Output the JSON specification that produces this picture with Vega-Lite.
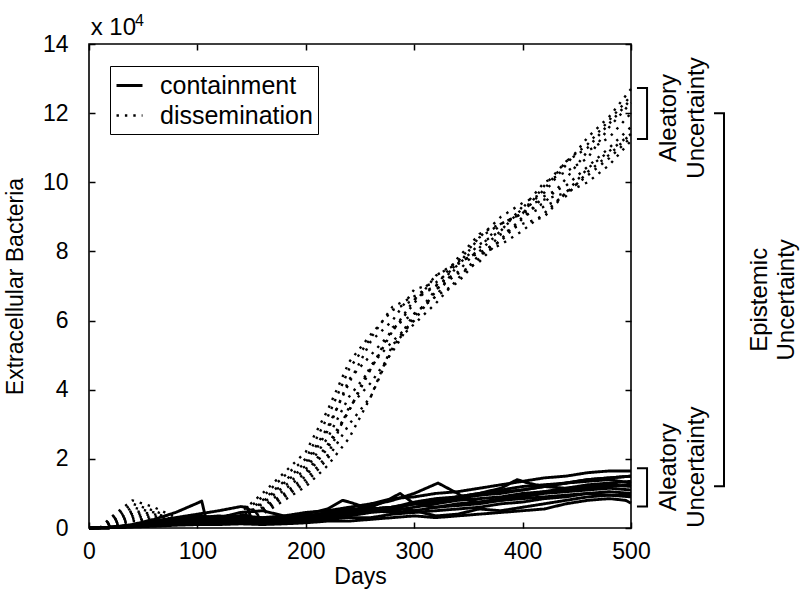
{
  "$schema": "https://vega.github.io/schema/vega-lite/v6.json",
  "width": 542,
  "height": 484,
  "autosize": {"type": "none"},
  "padding": {"left": 89, "top": 44, "right": 169, "bottom": 64},
  "background": "white",
  "config": {
    "font": "Liberation Sans",
    "view": {"stroke": "black", "strokeWidth": 1.6},
    "axis": {"grid": false, "domain": false, "tickColor": "black", "tickWidth": 1.5, "tickSize": -6, "labelColor": "black", "labelFontSize": 23, "titleFontSize": 23, "titleFontWeight": "normal", "titleColor": "black", "labelFont": "Liberation Sans", "titleFont": "Liberation Sans", "labelFlush": false, "labelOverlap": false},
    "legend": {"orient": "none", "legendX": 21, "legendY": 22, "symbolType": "stroke", "symbolSize": 676, "symbolStrokeWidth": 2.4, "symbolStrokeColor": "black", "labelFontSize": 25, "labelFont": "Liberation Sans", "labelColor": "black", "labelOffset": 16, "strokeColor": "black", "fillColor": "white", "padding": 5, "rowPadding": 2}
  },
  "datasets": {
    "runs": [
      {"t":"dissemination","r":"d1","d":10,"v":0},{"t":"dissemination","r":"d1","d":20,"v":0.3},{"t":"dissemination","r":"d1","d":40,"v":0.8},{"t":"dissemination","r":"d1","d":60,"v":0.6},{"t":"dissemination","r":"d1","d":80,"v":0.3},{"t":"dissemination","r":"d1","d":100,"v":0.25},{"t":"dissemination","r":"d1","d":120,"v":0.3},{"t":"dissemination","r":"d1","d":140,"v":0.45},{"t":"dissemination","r":"d1","d":160,"v":1.0},{"t":"dissemination","r":"d1","d":180,"v":1.6},{"t":"dissemination","r":"d1","d":200,"v":2.2},{"t":"dissemination","r":"d1","d":220,"v":3.4},{"t":"dissemination","r":"d1","d":240,"v":4.8},{"t":"dissemination","r":"d1","d":260,"v":5.6},{"t":"dissemination","r":"d1","d":280,"v":6.3},{"t":"dissemination","r":"d1","d":300,"v":6.6},{"t":"dissemination","r":"d1","d":320,"v":7.3},{"t":"dissemination","r":"d1","d":340,"v":7.7},{"t":"dissemination","r":"d1","d":360,"v":8.4},{"t":"dissemination","r":"d1","d":380,"v":9.0},{"t":"dissemination","r":"d1","d":400,"v":9.4},{"t":"dissemination","r":"d1","d":420,"v":9.7},{"t":"dissemination","r":"d1","d":440,"v":10.5},{"t":"dissemination","r":"d1","d":460,"v":11.3},{"t":"dissemination","r":"d1","d":480,"v":11.9},{"t":"dissemination","r":"d1","d":500,"v":12.7},
      {"t":"dissemination","r":"d2","d":10,"v":0},{"t":"dissemination","r":"d2","d":20,"v":0.25},{"t":"dissemination","r":"d2","d":40,"v":0.7},{"t":"dissemination","r":"d2","d":60,"v":0.5},{"t":"dissemination","r":"d2","d":80,"v":0.25},{"t":"dissemination","r":"d2","d":100,"v":0.2},{"t":"dissemination","r":"d2","d":120,"v":0.25},{"t":"dissemination","r":"d2","d":140,"v":0.4},{"t":"dissemination","r":"d2","d":160,"v":0.9},{"t":"dissemination","r":"d2","d":180,"v":1.5},{"t":"dissemination","r":"d2","d":200,"v":2.0},{"t":"dissemination","r":"d2","d":220,"v":3.2},{"t":"dissemination","r":"d2","d":240,"v":4.6},{"t":"dissemination","r":"d2","d":260,"v":5.5},{"t":"dissemination","r":"d2","d":280,"v":6.4},{"t":"dissemination","r":"d2","d":300,"v":6.7},{"t":"dissemination","r":"d2","d":320,"v":7.0},{"t":"dissemination","r":"d2","d":340,"v":7.8},{"t":"dissemination","r":"d2","d":360,"v":8.5},{"t":"dissemination","r":"d2","d":380,"v":8.8},{"t":"dissemination","r":"d2","d":400,"v":9.1},{"t":"dissemination","r":"d2","d":420,"v":9.8},{"t":"dissemination","r":"d2","d":440,"v":10.6},{"t":"dissemination","r":"d2","d":460,"v":11.1},{"t":"dissemination","r":"d2","d":480,"v":11.8},{"t":"dissemination","r":"d2","d":500,"v":12.5},
      {"t":"dissemination","r":"d3","d":10,"v":0},{"t":"dissemination","r":"d3","d":20,"v":0.2},{"t":"dissemination","r":"d3","d":40,"v":0.6},{"t":"dissemination","r":"d3","d":60,"v":0.45},{"t":"dissemination","r":"d3","d":80,"v":0.2},{"t":"dissemination","r":"d3","d":100,"v":0.2},{"t":"dissemination","r":"d3","d":120,"v":0.2},{"t":"dissemination","r":"d3","d":140,"v":0.35},{"t":"dissemination","r":"d3","d":160,"v":0.8},{"t":"dissemination","r":"d3","d":180,"v":1.35},{"t":"dissemination","r":"d3","d":200,"v":1.9},{"t":"dissemination","r":"d3","d":220,"v":2.9},{"t":"dissemination","r":"d3","d":240,"v":4.2},{"t":"dissemination","r":"d3","d":260,"v":5.4},{"t":"dissemination","r":"d3","d":280,"v":6.0},{"t":"dissemination","r":"d3","d":300,"v":6.9},{"t":"dissemination","r":"d3","d":320,"v":7.1},{"t":"dissemination","r":"d3","d":340,"v":7.6},{"t":"dissemination","r":"d3","d":360,"v":8.2},{"t":"dissemination","r":"d3","d":380,"v":8.6},{"t":"dissemination","r":"d3","d":400,"v":9.25},{"t":"dissemination","r":"d3","d":420,"v":10.0},{"t":"dissemination","r":"d3","d":440,"v":10.3},{"t":"dissemination","r":"d3","d":460,"v":10.7},{"t":"dissemination","r":"d3","d":480,"v":11.6},{"t":"dissemination","r":"d3","d":500,"v":12.3},
      {"t":"dissemination","r":"d4","d":10,"v":0},{"t":"dissemination","r":"d4","d":20,"v":0.15},{"t":"dissemination","r":"d4","d":40,"v":0.5},{"t":"dissemination","r":"d4","d":60,"v":0.4},{"t":"dissemination","r":"d4","d":80,"v":0.2},{"t":"dissemination","r":"d4","d":100,"v":0.15},{"t":"dissemination","r":"d4","d":120,"v":0.2},{"t":"dissemination","r":"d4","d":140,"v":0.3},{"t":"dissemination","r":"d4","d":160,"v":0.75},{"t":"dissemination","r":"d4","d":180,"v":1.3},{"t":"dissemination","r":"d4","d":200,"v":1.8},{"t":"dissemination","r":"d4","d":220,"v":2.8},{"t":"dissemination","r":"d4","d":240,"v":4.3},{"t":"dissemination","r":"d4","d":260,"v":5.0},{"t":"dissemination","r":"d4","d":280,"v":5.7},{"t":"dissemination","r":"d4","d":300,"v":6.5},{"t":"dissemination","r":"d4","d":320,"v":7.3},{"t":"dissemination","r":"d4","d":340,"v":7.65},{"t":"dissemination","r":"d4","d":360,"v":8.0},{"t":"dissemination","r":"d4","d":380,"v":8.6},{"t":"dissemination","r":"d4","d":400,"v":9.3},{"t":"dissemination","r":"d4","d":420,"v":9.5},{"t":"dissemination","r":"d4","d":440,"v":9.7},{"t":"dissemination","r":"d4","d":460,"v":10.4},{"t":"dissemination","r":"d4","d":480,"v":10.9},{"t":"dissemination","r":"d4","d":500,"v":11.4},
      {"t":"dissemination","r":"d5","d":10,"v":0},{"t":"dissemination","r":"d5","d":20,"v":0.2},{"t":"dissemination","r":"d5","d":40,"v":0.45},{"t":"dissemination","r":"d5","d":60,"v":0.35},{"t":"dissemination","r":"d5","d":80,"v":0.2},{"t":"dissemination","r":"d5","d":100,"v":0.2},{"t":"dissemination","r":"d5","d":120,"v":0.2},{"t":"dissemination","r":"d5","d":140,"v":0.3},{"t":"dissemination","r":"d5","d":160,"v":0.7},{"t":"dissemination","r":"d5","d":180,"v":1.2},{"t":"dissemination","r":"d5","d":200,"v":1.7},{"t":"dissemination","r":"d5","d":220,"v":2.6},{"t":"dissemination","r":"d5","d":240,"v":3.8},{"t":"dissemination","r":"d5","d":260,"v":4.6},{"t":"dissemination","r":"d5","d":280,"v":5.7},{"t":"dissemination","r":"d5","d":300,"v":6.6},{"t":"dissemination","r":"d5","d":320,"v":7.0},{"t":"dissemination","r":"d5","d":340,"v":7.4},{"t":"dissemination","r":"d5","d":360,"v":8.1},{"t":"dissemination","r":"d5","d":380,"v":8.8},{"t":"dissemination","r":"d5","d":400,"v":9.1},{"t":"dissemination","r":"d5","d":420,"v":9.4},{"t":"dissemination","r":"d5","d":440,"v":10.1},{"t":"dissemination","r":"d5","d":460,"v":10.9},{"t":"dissemination","r":"d5","d":480,"v":11.3},{"t":"dissemination","r":"d5","d":500,"v":12.0},
      {"t":"dissemination","r":"d6","d":10,"v":0},{"t":"dissemination","r":"d6","d":20,"v":0.1},{"t":"dissemination","r":"d6","d":40,"v":0.4},{"t":"dissemination","r":"d6","d":60,"v":0.3},{"t":"dissemination","r":"d6","d":80,"v":0.15},{"t":"dissemination","r":"d6","d":100,"v":0.2},{"t":"dissemination","r":"d6","d":120,"v":0.15},{"t":"dissemination","r":"d6","d":140,"v":0.25},{"t":"dissemination","r":"d6","d":160,"v":0.6},{"t":"dissemination","r":"d6","d":180,"v":1.1},{"t":"dissemination","r":"d6","d":200,"v":1.6},{"t":"dissemination","r":"d6","d":220,"v":2.4},{"t":"dissemination","r":"d6","d":240,"v":3.4},{"t":"dissemination","r":"d6","d":260,"v":4.6},{"t":"dissemination","r":"d6","d":280,"v":5.8},{"t":"dissemination","r":"d6","d":300,"v":6.2},{"t":"dissemination","r":"d6","d":320,"v":6.7},{"t":"dissemination","r":"d6","d":340,"v":7.6},{"t":"dissemination","r":"d6","d":360,"v":8.4},{"t":"dissemination","r":"d6","d":380,"v":8.8},{"t":"dissemination","r":"d6","d":400,"v":9.1},{"t":"dissemination","r":"d6","d":420,"v":9.9},{"t":"dissemination","r":"d6","d":440,"v":10.6},{"t":"dissemination","r":"d6","d":460,"v":11.0},{"t":"dissemination","r":"d6","d":480,"v":11.7},{"t":"dissemination","r":"d6","d":500,"v":12.4},
      {"t":"dissemination","r":"d7","d":10,"v":0},{"t":"dissemination","r":"d7","d":20,"v":0.1},{"t":"dissemination","r":"d7","d":40,"v":0.35},{"t":"dissemination","r":"d7","d":60,"v":0.25},{"t":"dissemination","r":"d7","d":80,"v":0.15},{"t":"dissemination","r":"d7","d":100,"v":0.15},{"t":"dissemination","r":"d7","d":120,"v":0.15},{"t":"dissemination","r":"d7","d":140,"v":0.25},{"t":"dissemination","r":"d7","d":160,"v":0.55},{"t":"dissemination","r":"d7","d":180,"v":1.0},{"t":"dissemination","r":"d7","d":200,"v":1.5},{"t":"dissemination","r":"d7","d":220,"v":2.3},{"t":"dissemination","r":"d7","d":240,"v":3.4},{"t":"dissemination","r":"d7","d":260,"v":4.7},{"t":"dissemination","r":"d7","d":280,"v":5.4},{"t":"dissemination","r":"d7","d":300,"v":6.0},{"t":"dissemination","r":"d7","d":320,"v":6.85},{"t":"dissemination","r":"d7","d":340,"v":7.7},{"t":"dissemination","r":"d7","d":360,"v":7.95},{"t":"dissemination","r":"d7","d":380,"v":8.3},{"t":"dissemination","r":"d7","d":400,"v":8.95},{"t":"dissemination","r":"d7","d":420,"v":9.6},{"t":"dissemination","r":"d7","d":440,"v":9.9},{"t":"dissemination","r":"d7","d":460,"v":10.45},{"t":"dissemination","r":"d7","d":480,"v":11.0},{"t":"dissemination","r":"d7","d":500,"v":11.6},
      {"t":"dissemination","r":"d8","d":10,"v":0},{"t":"dissemination","r":"d8","d":20,"v":0.1},{"t":"dissemination","r":"d8","d":40,"v":0.3},{"t":"dissemination","r":"d8","d":60,"v":0.2},{"t":"dissemination","r":"d8","d":80,"v":0.1},{"t":"dissemination","r":"d8","d":100,"v":0.15},{"t":"dissemination","r":"d8","d":120,"v":0.15},{"t":"dissemination","r":"d8","d":140,"v":0.2},{"t":"dissemination","r":"d8","d":160,"v":0.5},{"t":"dissemination","r":"d8","d":180,"v":0.95},{"t":"dissemination","r":"d8","d":200,"v":1.4},{"t":"dissemination","r":"d8","d":220,"v":2.1},{"t":"dissemination","r":"d8","d":240,"v":3.5},{"t":"dissemination","r":"d8","d":260,"v":4.2},{"t":"dissemination","r":"d8","d":280,"v":5.1},{"t":"dissemination","r":"d8","d":300,"v":6.1},{"t":"dissemination","r":"d8","d":320,"v":6.9},{"t":"dissemination","r":"d8","d":340,"v":7.35},{"t":"dissemination","r":"d8","d":360,"v":7.7},{"t":"dissemination","r":"d8","d":380,"v":8.35},{"t":"dissemination","r":"d8","d":400,"v":9.0},{"t":"dissemination","r":"d8","d":420,"v":9.3},{"t":"dissemination","r":"d8","d":440,"v":9.6},{"t":"dissemination","r":"d8","d":460,"v":10.3},{"t":"dissemination","r":"d8","d":480,"v":10.8},{"t":"dissemination","r":"d8","d":500,"v":11.4},
      {"t":"dissemination","r":"d9","d":10,"v":0},{"t":"dissemination","r":"d9","d":20,"v":0.05},{"t":"dissemination","r":"d9","d":40,"v":0.25},{"t":"dissemination","r":"d9","d":60,"v":0.2},{"t":"dissemination","r":"d9","d":80,"v":0.1},{"t":"dissemination","r":"d9","d":100,"v":0.1},{"t":"dissemination","r":"d9","d":120,"v":0.1},{"t":"dissemination","r":"d9","d":140,"v":0.2},{"t":"dissemination","r":"d9","d":160,"v":0.45},{"t":"dissemination","r":"d9","d":180,"v":0.9},{"t":"dissemination","r":"d9","d":200,"v":1.3},{"t":"dissemination","r":"d9","d":220,"v":2.0},{"t":"dissemination","r":"d9","d":240,"v":3.0},{"t":"dissemination","r":"d9","d":260,"v":3.8},{"t":"dissemination","r":"d9","d":280,"v":5.2},{"t":"dissemination","r":"d9","d":300,"v":6.2},{"t":"dissemination","r":"d9","d":320,"v":6.7},{"t":"dissemination","r":"d9","d":340,"v":7.1},{"t":"dissemination","r":"d9","d":360,"v":7.8},{"t":"dissemination","r":"d9","d":380,"v":8.5},{"t":"dissemination","r":"d9","d":400,"v":8.8},{"t":"dissemination","r":"d9","d":420,"v":9.0},{"t":"dissemination","r":"d9","d":440,"v":9.7},{"t":"dissemination","r":"d9","d":460,"v":10.2},{"t":"dissemination","r":"d9","d":480,"v":10.7},{"t":"dissemination","r":"d9","d":500,"v":11.3},
      {"t":"dissemination","r":"d10","d":10,"v":0},{"t":"dissemination","r":"d10","d":20,"v":0.05},{"t":"dissemination","r":"d10","d":40,"v":0.2},{"t":"dissemination","r":"d10","d":60,"v":0.15},{"t":"dissemination","r":"d10","d":80,"v":0.1},{"t":"dissemination","r":"d10","d":100,"v":0.1},{"t":"dissemination","r":"d10","d":120,"v":0.1},{"t":"dissemination","r":"d10","d":140,"v":0.15},{"t":"dissemination","r":"d10","d":160,"v":0.4},{"t":"dissemination","r":"d10","d":180,"v":0.8},{"t":"dissemination","r":"d10","d":200,"v":1.2},{"t":"dissemination","r":"d10","d":220,"v":1.8},{"t":"dissemination","r":"d10","d":240,"v":2.6},{"t":"dissemination","r":"d10","d":260,"v":3.8},{"t":"dissemination","r":"d10","d":280,"v":5.3},{"t":"dissemination","r":"d10","d":300,"v":5.9},{"t":"dissemination","r":"d10","d":320,"v":6.5},{"t":"dissemination","r":"d10","d":340,"v":7.2},{"t":"dissemination","r":"d10","d":360,"v":7.9},{"t":"dissemination","r":"d10","d":380,"v":8.2},{"t":"dissemination","r":"d10","d":400,"v":8.6},{"t":"dissemination","r":"d10","d":420,"v":9.1},{"t":"dissemination","r":"d10","d":440,"v":9.7},{"t":"dissemination","r":"d10","d":460,"v":10.0},{"t":"dissemination","r":"d10","d":480,"v":10.5},{"t":"dissemination","r":"d10","d":500,"v":11.2},
      {"t":"containment","r":"c1","d":0,"v":0},{"t":"containment","r":"c1","d":20,"v":0.02},{"t":"containment","r":"c1","d":40,"v":0.1},{"t":"containment","r":"c1","d":60,"v":0.25},{"t":"containment","r":"c1","d":80,"v":0.45},{"t":"containment","r":"c1","d":100,"v":0.72},{"t":"containment","r":"c1","d":104,"v":0.78},{"t":"containment","r":"c1","d":108,"v":0.25},{"t":"containment","r":"c1","d":120,"v":0.3},{"t":"containment","r":"c1","d":140,"v":0.35},{"t":"containment","r":"c1","d":160,"v":0.3},{"t":"containment","r":"c1","d":180,"v":0.35},{"t":"containment","r":"c1","d":200,"v":0.45},{"t":"containment","r":"c1","d":220,"v":0.5},{"t":"containment","r":"c1","d":240,"v":0.6},{"t":"containment","r":"c1","d":260,"v":0.7},{"t":"containment","r":"c1","d":280,"v":0.85},{"t":"containment","r":"c1","d":300,"v":0.9},{"t":"containment","r":"c1","d":320,"v":1.0},{"t":"containment","r":"c1","d":340,"v":1.05},{"t":"containment","r":"c1","d":360,"v":1.15},{"t":"containment","r":"c1","d":380,"v":1.25},{"t":"containment","r":"c1","d":400,"v":1.35},{"t":"containment","r":"c1","d":420,"v":1.45},{"t":"containment","r":"c1","d":440,"v":1.5},{"t":"containment","r":"c1","d":460,"v":1.6},{"t":"containment","r":"c1","d":480,"v":1.65},{"t":"containment","r":"c1","d":500,"v":1.65},
      {"t":"containment","r":"c2","d":0,"v":0},{"t":"containment","r":"c2","d":20,"v":0.01},{"t":"containment","r":"c2","d":40,"v":0.08},{"t":"containment","r":"c2","d":60,"v":0.2},{"t":"containment","r":"c2","d":80,"v":0.3},{"t":"containment","r":"c2","d":100,"v":0.4},{"t":"containment","r":"c2","d":120,"v":0.5},{"t":"containment","r":"c2","d":140,"v":0.62},{"t":"containment","r":"c2","d":146,"v":0.6},{"t":"containment","r":"c2","d":150,"v":0.25},{"t":"containment","r":"c2","d":160,"v":0.25},{"t":"containment","r":"c2","d":180,"v":0.2},{"t":"containment","r":"c2","d":200,"v":0.3},{"t":"containment","r":"c2","d":220,"v":0.35},{"t":"containment","r":"c2","d":240,"v":0.4},{"t":"containment","r":"c2","d":260,"v":0.5},{"t":"containment","r":"c2","d":280,"v":0.55},{"t":"containment","r":"c2","d":300,"v":0.7},{"t":"containment","r":"c2","d":320,"v":0.8},{"t":"containment","r":"c2","d":340,"v":0.9},{"t":"containment","r":"c2","d":360,"v":0.95},{"t":"containment","r":"c2","d":380,"v":1.0},{"t":"containment","r":"c2","d":400,"v":1.1},{"t":"containment","r":"c2","d":420,"v":1.2},{"t":"containment","r":"c2","d":440,"v":1.3},{"t":"containment","r":"c2","d":460,"v":1.35},{"t":"containment","r":"c2","d":480,"v":1.4},{"t":"containment","r":"c2","d":500,"v":1.3},
      {"t":"containment","r":"c3","d":0,"v":0},{"t":"containment","r":"c3","d":20,"v":0.02},{"t":"containment","r":"c3","d":40,"v":0.08},{"t":"containment","r":"c3","d":60,"v":0.15},{"t":"containment","r":"c3","d":80,"v":0.2},{"t":"containment","r":"c3","d":100,"v":0.25},{"t":"containment","r":"c3","d":120,"v":0.3},{"t":"containment","r":"c3","d":140,"v":0.3},{"t":"containment","r":"c3","d":160,"v":0.25},{"t":"containment","r":"c3","d":180,"v":0.3},{"t":"containment","r":"c3","d":200,"v":0.4},{"t":"containment","r":"c3","d":220,"v":0.55},{"t":"containment","r":"c3","d":234,"v":0.8},{"t":"containment","r":"c3","d":240,"v":0.75},{"t":"containment","r":"c3","d":260,"v":0.55},{"t":"containment","r":"c3","d":280,"v":0.6},{"t":"containment","r":"c3","d":300,"v":0.75},{"t":"containment","r":"c3","d":320,"v":0.85},{"t":"containment","r":"c3","d":340,"v":0.9},{"t":"containment","r":"c3","d":360,"v":1.0},{"t":"containment","r":"c3","d":380,"v":1.1},{"t":"containment","r":"c3","d":400,"v":1.2},{"t":"containment","r":"c3","d":420,"v":1.25},{"t":"containment","r":"c3","d":440,"v":1.3},{"t":"containment","r":"c3","d":460,"v":1.4},{"t":"containment","r":"c3","d":480,"v":1.45},{"t":"containment","r":"c3","d":500,"v":1.5},
      {"t":"containment","r":"c4","d":0,"v":0},{"t":"containment","r":"c4","d":20,"v":0.01},{"t":"containment","r":"c4","d":40,"v":0.05},{"t":"containment","r":"c4","d":60,"v":0.12},{"t":"containment","r":"c4","d":80,"v":0.2},{"t":"containment","r":"c4","d":100,"v":0.2},{"t":"containment","r":"c4","d":120,"v":0.25},{"t":"containment","r":"c4","d":140,"v":0.2},{"t":"containment","r":"c4","d":160,"v":0.2},{"t":"containment","r":"c4","d":180,"v":0.25},{"t":"containment","r":"c4","d":200,"v":0.3},{"t":"containment","r":"c4","d":220,"v":0.4},{"t":"containment","r":"c4","d":240,"v":0.5},{"t":"containment","r":"c4","d":260,"v":0.65},{"t":"containment","r":"c4","d":280,"v":0.8},{"t":"containment","r":"c4","d":300,"v":1.0},{"t":"containment","r":"c4","d":322,"v":1.3},{"t":"containment","r":"c4","d":340,"v":1.0},{"t":"containment","r":"c4","d":350,"v":0.8},{"t":"containment","r":"c4","d":360,"v":0.75},{"t":"containment","r":"c4","d":380,"v":0.85},{"t":"containment","r":"c4","d":400,"v":0.95},{"t":"containment","r":"c4","d":420,"v":1.05},{"t":"containment","r":"c4","d":440,"v":1.15},{"t":"containment","r":"c4","d":460,"v":1.25},{"t":"containment","r":"c4","d":480,"v":1.3},{"t":"containment","r":"c4","d":500,"v":1.35},
      {"t":"containment","r":"c5","d":0,"v":0},{"t":"containment","r":"c5","d":20,"v":0.01},{"t":"containment","r":"c5","d":40,"v":0.05},{"t":"containment","r":"c5","d":60,"v":0.1},{"t":"containment","r":"c5","d":80,"v":0.15},{"t":"containment","r":"c5","d":100,"v":0.2},{"t":"containment","r":"c5","d":120,"v":0.15},{"t":"containment","r":"c5","d":140,"v":0.2},{"t":"containment","r":"c5","d":160,"v":0.2},{"t":"containment","r":"c5","d":180,"v":0.25},{"t":"containment","r":"c5","d":200,"v":0.3},{"t":"containment","r":"c5","d":220,"v":0.35},{"t":"containment","r":"c5","d":240,"v":0.4},{"t":"containment","r":"c5","d":260,"v":0.5},{"t":"containment","r":"c5","d":280,"v":0.6},{"t":"containment","r":"c5","d":300,"v":0.7},{"t":"containment","r":"c5","d":320,"v":0.8},{"t":"containment","r":"c5","d":340,"v":0.9},{"t":"containment","r":"c5","d":360,"v":1.0},{"t":"containment","r":"c5","d":380,"v":1.15},{"t":"containment","r":"c5","d":395,"v":1.4},{"t":"containment","r":"c5","d":405,"v":1.3},{"t":"containment","r":"c5","d":420,"v":1.2},{"t":"containment","r":"c5","d":440,"v":1.15},{"t":"containment","r":"c5","d":460,"v":1.2},{"t":"containment","r":"c5","d":480,"v":1.25},{"t":"containment","r":"c5","d":500,"v":1.2},
      {"t":"containment","r":"c6","d":0,"v":0},{"t":"containment","r":"c6","d":20,"v":0.02},{"t":"containment","r":"c6","d":40,"v":0.06},{"t":"containment","r":"c6","d":60,"v":0.1},{"t":"containment","r":"c6","d":80,"v":0.12},{"t":"containment","r":"c6","d":100,"v":0.15},{"t":"containment","r":"c6","d":120,"v":0.2},{"t":"containment","r":"c6","d":140,"v":0.2},{"t":"containment","r":"c6","d":160,"v":0.18},{"t":"containment","r":"c6","d":180,"v":0.2},{"t":"containment","r":"c6","d":200,"v":0.25},{"t":"containment","r":"c6","d":220,"v":0.35},{"t":"containment","r":"c6","d":240,"v":0.45},{"t":"containment","r":"c6","d":260,"v":0.6},{"t":"containment","r":"c6","d":275,"v":0.8},{"t":"containment","r":"c6","d":287,"v":1.0},{"t":"containment","r":"c6","d":300,"v":0.7},{"t":"containment","r":"c6","d":320,"v":0.6},{"t":"containment","r":"c6","d":340,"v":0.65},{"t":"containment","r":"c6","d":360,"v":0.7},{"t":"containment","r":"c6","d":380,"v":0.8},{"t":"containment","r":"c6","d":400,"v":0.9},{"t":"containment","r":"c6","d":420,"v":1.0},{"t":"containment","r":"c6","d":440,"v":1.05},{"t":"containment","r":"c6","d":460,"v":1.1},{"t":"containment","r":"c6","d":480,"v":1.15},{"t":"containment","r":"c6","d":500,"v":1.1},
      {"t":"containment","r":"c7","d":0,"v":0},{"t":"containment","r":"c7","d":20,"v":0.01},{"t":"containment","r":"c7","d":40,"v":0.03},{"t":"containment","r":"c7","d":60,"v":0.05},{"t":"containment","r":"c7","d":80,"v":0.08},{"t":"containment","r":"c7","d":100,"v":0.1},{"t":"containment","r":"c7","d":120,"v":0.1},{"t":"containment","r":"c7","d":140,"v":0.12},{"t":"containment","r":"c7","d":160,"v":0.1},{"t":"containment","r":"c7","d":180,"v":0.12},{"t":"containment","r":"c7","d":200,"v":0.15},{"t":"containment","r":"c7","d":220,"v":0.2},{"t":"containment","r":"c7","d":240,"v":0.2},{"t":"containment","r":"c7","d":260,"v":0.25},{"t":"containment","r":"c7","d":280,"v":0.3},{"t":"containment","r":"c7","d":300,"v":0.35},{"t":"containment","r":"c7","d":320,"v":0.3},{"t":"containment","r":"c7","d":340,"v":0.35},{"t":"containment","r":"c7","d":360,"v":0.4},{"t":"containment","r":"c7","d":380,"v":0.45},{"t":"containment","r":"c7","d":400,"v":0.5},{"t":"containment","r":"c7","d":420,"v":0.55},{"t":"containment","r":"c7","d":440,"v":0.7},{"t":"containment","r":"c7","d":460,"v":0.8},{"t":"containment","r":"c7","d":480,"v":0.85},{"t":"containment","r":"c7","d":495,"v":0.8},{"t":"containment","r":"c7","d":500,"v":0.72},
      {"t":"containment","r":"c8","d":0,"v":0},{"t":"containment","r":"c8","d":20,"v":0.02},{"t":"containment","r":"c8","d":40,"v":0.07},{"t":"containment","r":"c8","d":60,"v":0.12},{"t":"containment","r":"c8","d":80,"v":0.15},{"t":"containment","r":"c8","d":100,"v":0.2},{"t":"containment","r":"c8","d":120,"v":0.25},{"t":"containment","r":"c8","d":140,"v":0.25},{"t":"containment","r":"c8","d":160,"v":0.2},{"t":"containment","r":"c8","d":180,"v":0.25},{"t":"containment","r":"c8","d":200,"v":0.35},{"t":"containment","r":"c8","d":220,"v":0.4},{"t":"containment","r":"c8","d":240,"v":0.5},{"t":"containment","r":"c8","d":260,"v":0.55},{"t":"containment","r":"c8","d":280,"v":0.6},{"t":"containment","r":"c8","d":300,"v":0.5},{"t":"containment","r":"c8","d":320,"v":0.35},{"t":"containment","r":"c8","d":340,"v":0.4},{"t":"containment","r":"c8","d":360,"v":0.55},{"t":"containment","r":"c8","d":380,"v":0.5},{"t":"containment","r":"c8","d":400,"v":0.6},{"t":"containment","r":"c8","d":420,"v":0.7},{"t":"containment","r":"c8","d":440,"v":0.8},{"t":"containment","r":"c8","d":460,"v":0.9},{"t":"containment","r":"c8","d":480,"v":0.95},{"t":"containment","r":"c8","d":500,"v":0.9},
      {"t":"containment","r":"c9","d":0,"v":0},{"t":"containment","r":"c9","d":20,"v":0.01},{"t":"containment","r":"c9","d":40,"v":0.05},{"t":"containment","r":"c9","d":60,"v":0.1},{"t":"containment","r":"c9","d":80,"v":0.2},{"t":"containment","r":"c9","d":100,"v":0.3},{"t":"containment","r":"c9","d":120,"v":0.35},{"t":"containment","r":"c9","d":140,"v":0.3},{"t":"containment","r":"c9","d":160,"v":0.25},{"t":"containment","r":"c9","d":180,"v":0.2},{"t":"containment","r":"c9","d":200,"v":0.2},{"t":"containment","r":"c9","d":220,"v":0.3},{"t":"containment","r":"c9","d":240,"v":0.35},{"t":"containment","r":"c9","d":260,"v":0.45},{"t":"containment","r":"c9","d":280,"v":0.5},{"t":"containment","r":"c9","d":300,"v":0.6},{"t":"containment","r":"c9","d":320,"v":0.7},{"t":"containment","r":"c9","d":340,"v":0.8},{"t":"containment","r":"c9","d":360,"v":0.85},{"t":"containment","r":"c9","d":380,"v":0.9},{"t":"containment","r":"c9","d":400,"v":1.0},{"t":"containment","r":"c9","d":420,"v":1.05},{"t":"containment","r":"c9","d":440,"v":1.1},{"t":"containment","r":"c9","d":460,"v":1.15},{"t":"containment","r":"c9","d":480,"v":1.2},{"t":"containment","r":"c9","d":500,"v":1.25},
      {"t":"containment","r":"c10","d":0,"v":0},{"t":"containment","r":"c10","d":20,"v":0.02},{"t":"containment","r":"c10","d":40,"v":0.06},{"t":"containment","r":"c10","d":60,"v":0.15},{"t":"containment","r":"c10","d":80,"v":0.25},{"t":"containment","r":"c10","d":100,"v":0.35},{"t":"containment","r":"c10","d":120,"v":0.3},{"t":"containment","r":"c10","d":140,"v":0.45},{"t":"containment","r":"c10","d":160,"v":0.5},{"t":"containment","r":"c10","d":180,"v":0.35},{"t":"containment","r":"c10","d":200,"v":0.3},{"t":"containment","r":"c10","d":220,"v":0.4},{"t":"containment","r":"c10","d":240,"v":0.5},{"t":"containment","r":"c10","d":260,"v":0.55},{"t":"containment","r":"c10","d":280,"v":0.6},{"t":"containment","r":"c10","d":300,"v":0.7},{"t":"containment","r":"c10","d":320,"v":0.75},{"t":"containment","r":"c10","d":340,"v":0.85},{"t":"containment","r":"c10","d":360,"v":0.95},{"t":"containment","r":"c10","d":380,"v":1.05},{"t":"containment","r":"c10","d":400,"v":1.1},{"t":"containment","r":"c10","d":420,"v":1.2},{"t":"containment","r":"c10","d":440,"v":1.3},{"t":"containment","r":"c10","d":460,"v":1.4},{"t":"containment","r":"c10","d":480,"v":1.45},{"t":"containment","r":"c10","d":500,"v":1.5},
      {"t":"containment","r":"c11","d":0,"v":0},{"t":"containment","r":"c11","d":20,"v":0.01},{"t":"containment","r":"c11","d":40,"v":0.04},{"t":"containment","r":"c11","d":60,"v":0.08},{"t":"containment","r":"c11","d":80,"v":0.12},{"t":"containment","r":"c11","d":100,"v":0.15},{"t":"containment","r":"c11","d":120,"v":0.15},{"t":"containment","r":"c11","d":140,"v":0.18},{"t":"containment","r":"c11","d":160,"v":0.15},{"t":"containment","r":"c11","d":180,"v":0.15},{"t":"containment","r":"c11","d":200,"v":0.18},{"t":"containment","r":"c11","d":220,"v":0.25},{"t":"containment","r":"c11","d":240,"v":0.3},{"t":"containment","r":"c11","d":260,"v":0.3},{"t":"containment","r":"c11","d":280,"v":0.4},{"t":"containment","r":"c11","d":300,"v":0.45},{"t":"containment","r":"c11","d":320,"v":0.5},{"t":"containment","r":"c11","d":340,"v":0.55},{"t":"containment","r":"c11","d":360,"v":0.6},{"t":"containment","r":"c11","d":380,"v":0.7},{"t":"containment","r":"c11","d":400,"v":0.75},{"t":"containment","r":"c11","d":420,"v":0.85},{"t":"containment","r":"c11","d":440,"v":0.9},{"t":"containment","r":"c11","d":460,"v":1.0},{"t":"containment","r":"c11","d":480,"v":1.05},{"t":"containment","r":"c11","d":500,"v":1.0},
      {"t":"containment","r":"c12","d":0,"v":0},{"t":"containment","r":"c12","d":20,"v":0.02},{"t":"containment","r":"c12","d":40,"v":0.05},{"t":"containment","r":"c12","d":60,"v":0.1},{"t":"containment","r":"c12","d":80,"v":0.15},{"t":"containment","r":"c12","d":100,"v":0.25},{"t":"containment","r":"c12","d":120,"v":0.3},{"t":"containment","r":"c12","d":140,"v":0.25},{"t":"containment","r":"c12","d":160,"v":0.3},{"t":"containment","r":"c12","d":180,"v":0.3},{"t":"containment","r":"c12","d":200,"v":0.35},{"t":"containment","r":"c12","d":220,"v":0.45},{"t":"containment","r":"c12","d":240,"v":0.55},{"t":"containment","r":"c12","d":260,"v":0.5},{"t":"containment","r":"c12","d":280,"v":0.45},{"t":"containment","r":"c12","d":300,"v":0.5},{"t":"containment","r":"c12","d":320,"v":0.6},{"t":"containment","r":"c12","d":340,"v":0.7},{"t":"containment","r":"c12","d":360,"v":0.75},{"t":"containment","r":"c12","d":380,"v":0.8},{"t":"containment","r":"c12","d":400,"v":0.85},{"t":"containment","r":"c12","d":420,"v":0.9},{"t":"containment","r":"c12","d":440,"v":0.95},{"t":"containment","r":"c12","d":460,"v":1.0},{"t":"containment","r":"c12","d":480,"v":0.95},{"t":"containment","r":"c12","d":500,"v":0.95}
    ],
    "brackets": [
      {"g":"a1","o":0,"d":505.5,"v":12.73},{"g":"a1","o":1,"d":514.8,"v":12.73},{"g":"a1","o":2,"d":514.8,"v":11.25},{"g":"a1","o":3,"d":505.5,"v":11.25},
      {"g":"e1","o":0,"d":576.6,"v":12.0},{"g":"e1","o":1,"d":585.8,"v":12.0},{"g":"e1","o":2,"d":585.8,"v":1.21},{"g":"e1","o":3,"d":576.6,"v":1.21},
      {"g":"a2","o":0,"d":505.5,"v":1.73},{"g":"a2","o":1,"d":514.8,"v":1.73},{"g":"a2","o":2,"d":514.8,"v":0.62},{"g":"a2","o":3,"d":505.5,"v":0.62}
    ],
    "notes": [
      {"label":"Aleatory","d":535,"v":11.86},
      {"label":"Uncertainty","d":561,"v":11.86},
      {"label":"Epistemic","d":619,"v":6.6},
      {"label":"Uncertainty","d":644,"v":6.6},
      {"label":"Aleatory","d":535,"v":1.76},
      {"label":"Uncertainty","d":561,"v":1.76}
    ],
    "scale_note": [
      {"label":"x 10","d":1.5,"v":14.26,"size":24},
      {"label":"4","d":42.5,"v":14.52,"size":16}
    ]
  },
  "layer": [
    {
      "data": {"name": "runs"},
      "mark": {"type": "line", "color": "black", "strokeCap": "butt", "strokeJoin": "round"},
      "encoding": {
        "x": {"field": "d", "type": "quantitative", "scale": {"domain": [0, 500], "nice": false, "zero": false}, "axis": {"orient": "bottom", "values": [0, 100, 200, 300, 400, 500], "title": "Days", "labelPadding": 18, "titlePadding": 2}},
        "y": {"field": "v", "type": "quantitative", "scale": {"domain": [0, 14], "nice": false}, "axis": {"orient": "left", "values": [0, 2, 4, 6, 8, 10, 12, 14], "title": "Extracellular Bacteria", "labelPadding": 27, "titlePadding": 15}},
        "detail": {"field": "r"},
        "strokeDash": {"field": "t", "type": "nominal", "scale": {"domain": ["containment", "dissemination"], "range": [[1, 0], [2.4, 6]]}, "legend": {"title": null}},
        "strokeWidth": {"field": "t", "type": "nominal", "scale": {"domain": ["containment", "dissemination"], "range": [2.9, 2.4]}, "legend": null}
      }
    },
    {
      "data": {"name": "brackets"},
      "mark": {"type": "line", "strokeWidth": 2, "color": "black", "clip": false},
      "encoding": {
        "x": {"field": "d", "type": "quantitative", "scale": {"domain": [0, 500], "nice": false, "zero": false}, "axis": {"orient": "top", "labels": false, "title": null, "values": [0, 100, 200, 300, 400, 500]}},
        "y": {"field": "v", "type": "quantitative", "scale": {"domain": [0, 14], "nice": false}, "axis": {"orient": "right", "labels": false, "title": null, "values": [0, 2, 4, 6, 8, 10, 12, 14]}},
        "detail": {"field": "g"},
        "order": {"field": "o"}
      }
    },
    {
      "data": {"name": "notes"},
      "mark": {"type": "text", "angle": 270, "align": "center", "baseline": "middle", "fontSize": 24, "color": "black", "font": "Liberation Sans"},
      "encoding": {
        "x": {"field": "d", "type": "quantitative", "scale": {"domain": [0, 500], "nice": false, "zero": false}, "axis": null},
        "y": {"field": "v", "type": "quantitative", "scale": {"domain": [0, 14], "nice": false}, "axis": null},
        "text": {"field": "label"}
      }
    },
    {
      "data": {"name": "scale_note"},
      "mark": {"type": "text", "align": "left", "baseline": "alphabetic", "color": "black", "font": "Liberation Sans"},
      "encoding": {
        "x": {"field": "d", "type": "quantitative", "scale": {"domain": [0, 500], "nice": false, "zero": false}, "axis": null},
        "y": {"field": "v", "type": "quantitative", "scale": {"domain": [0, 14], "nice": false}, "axis": null},
        "text": {"field": "label"},
        "size": {"field": "size", "type": "quantitative", "scale": null}
      }
    }
  ],
  "resolve": {"axis": {"x": "independent", "y": "independent"}}
}
